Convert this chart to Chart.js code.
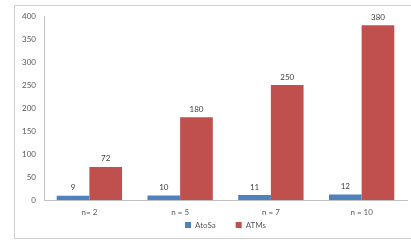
<!DOCTYPE html>
<html>
<head>
<meta charset="utf-8">
<script src="https://cdn.jsdelivr.net/npm/chart.js@4"></script>
<style>
  html, body { margin: 0; padding: 0; background: #fff; }
  #wrap { width: 411px; height: 242px; position: relative; }
</style>
</head>
<body>
<div id="wrap"><canvas id="c"></canvas></div>
<script>
// --- données ---
const categories = ['n= 2', 'n = 5', 'n = 7', 'n = 10'];
const atosaValues = [9, 10, 11, 12];
const atmsValues = [72, 180, 250, 380];
const yTicks = [0, 50, 100, 150, 200, 250, 300, 350, 400];

const FONT = 'Lato, "Liberation Sans", sans-serif';
const TEXT = '#595959';

// cadre gris autour du graphique
const framePlugin = {
  id: 'frame',
  beforeDraw(chart) {
    const ctx = chart.ctx;
    ctx.save();
    ctx.strokeStyle = '#d0d0d0';
    ctx.lineWidth = 1;
    ctx.strokeRect(14.5, 5.5, 420, 233);
    ctx.restore();
  }
};

// valeurs au-dessus des barres
const valueLabels = {
  id: 'valueLabels',
  afterDatasetsDraw(chart) {
    const ctx = chart.ctx;
    ctx.save();
    ctx.font = '8px ' + FONT;
    ctx.fillStyle = '#404040';
    ctx.textAlign = 'center';
    ctx.textBaseline = 'bottom';
    chart.data.datasets.forEach((ds, i) => {
      chart.getDatasetMeta(i).data.forEach((bar, j) => {
        ctx.fillText(ds.data[j], bar.x, bar.y - 4);
      });
    });
    ctx.restore();
  }
};

new Chart(document.getElementById('c'), {
  type: 'bar',
  data: {
    labels: categories,
    datasets: [
      { label: 'AtoSa', data: atosaValues, backgroundColor: '#4F81BD' },
      { label: 'ATMs', data: atmsValues, backgroundColor: '#C0504D' }
    ]
  },
  options: {
    responsive: true,
    maintainAspectRatio: false,
    animation: false,
    devicePixelRatio: 1,
    categoryPercentage: 0.72,
    barPercentage: 1,
    layout: { padding: { top: 16, right: 4, bottom: 3, left: 0 } },
    plugins: {
      legend: {
        position: 'bottom',
        fullSize: false,
        labels: {
          boxWidth: 6,
          boxHeight: 6,
          padding: 2,
          color: TEXT,
          font: { family: FONT, size: 8 },
          generateLabels(chart) {
            const items = Chart.defaults.plugins.legend.labels.generateLabels(chart);
            // espace entre les deux entrées, comme dans l'original
            items.forEach((it, i) => { if (i < items.length - 1) it.text += '\u2003\u2003\u2003'; });
            return items;
          }
        }
      },
      tooltip: { enabled: false }
    },
    scales: {
      x: {
        grid: { display: false, drawTicks: false },
        border: { color: '#c0c0c0' },
        ticks: { color: TEXT, font: { family: FONT, size: 8 }, padding: 8, maxRotation: 0 },
        afterFit(scale) { scale.height = 19; }
      },
      y: {
        min: 0,
        max: 400,
        grid: { display: false, drawTicks: false },
        border: { color: '#c0c0c0' },
        afterBuildTicks(scale) { scale.ticks = yTicks.map(v => ({ value: v })); },
        ticks: { color: TEXT, font: { family: FONT, size: 8 }, padding: 8 },
        afterFit(scale) { scale.width = 44; }
      }
    }
  },
  plugins: [framePlugin, valueLabels]
});
</script>
</body>
</html>
